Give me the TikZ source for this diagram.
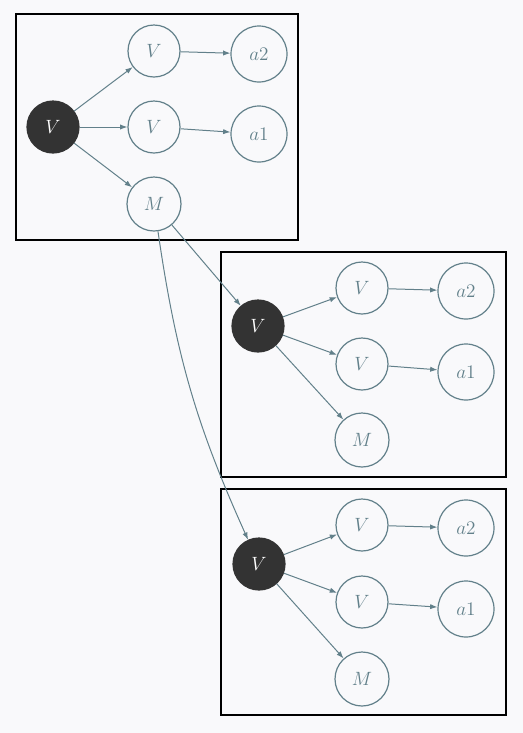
\documentclass[tikz,border=0pt]{standalone}
\usetikzlibrary{arrows.meta}
\definecolor{bggray}{HTML}{F9F9FB}
\definecolor{edgegray}{HTML}{62808A}
\definecolor{nodedark}{HTML}{333333}
\begin{document}
\begin{tikzpicture}[x=0.75pt,y=-0.75pt]

    \tikzset{
      state/.style={
        circle,
        draw=edgegray,
        line width=0.9pt,
        text=edgegray,
        inner sep=0pt,
        minimum size=39pt,
        font=\fontsize{13.7}{16}\selectfont,
      },
      root/.style={
        state,
        fill=nodedark,
        draw=nodedark,
        text=white,
      },
      leaf/.style={
        state,
        minimum size=42pt,
      },
      group/.style={
        draw=black,
        line width=0.8pt,
      },
      link/.style={
        draw=edgegray,
        line width=0.75pt,
        -{Latex[length=5.5pt,width=4pt]},
      },
    }
    \fill[bggray] (0,0) rectangle (523,733);
    \useasboundingbox (0,0) rectangle (523,733);
	\draw[group] (16,14) rectangle (298,240);
	\draw[group] (221,252) rectangle (506,477);
	\draw[group] (221,489) rectangle (506,715);
	\node[root] (r1) at (53,127) {$V$};
	\node[state] (v1a) at (154,51) {$V$};
	\node[state] (v1b) at (154,127) {$V$};
	\node[state,minimum size=40.5pt] (m1) at (154,204) {$M$};
	\node[leaf] (atwo1) at (259,54) {$a2$};
	\node[leaf] (aone1) at (259,134) {$a1$};
	\node[root] (r2) at (258,326) {$V$};
	\node[state] (v2a) at (362,288) {$V$};
	\node[state] (v2b) at (362,364) {$V$};
	\node[state,minimum size=40.5pt] (m2) at (362,440) {$M$};
	\node[leaf] (atwo2) at (466,291) {$a2$};
	\node[leaf] (aone2) at (466,372) {$a1$};
	\node[root] (r3) at (259,564) {$V$};
	\node[state] (v3a) at (362,525) {$V$};
	\node[state] (v3b) at (362,602) {$V$};
	\node[state,minimum size=40.5pt] (m3) at (362,679) {$M$};
	\node[leaf] (atwo3) at (466,528) {$a2$};
	\node[leaf] (aone3) at (466,609) {$a1$};
	\draw[link] (r1)--(v1a);
	\draw[link] (r1)--(v1b);
	\draw[link] (r1)--(m1);
	\draw[link] (v1a)--(atwo1);
	\draw[link] (v1b)--(aone1);
	\draw[link] (r2)--(v2a);
	\draw[link] (r2)--(v2b);
	\draw[link] (r2)--(m2);
	\draw[link] (v2a)--(atwo2);
	\draw[link] (v2b)--(aone2);
	\draw[link] (r3)--(v3a);
	\draw[link] (r3)--(v3b);
	\draw[link] (r3)--(m3);
	\draw[link] (v3a)--(atwo3);
	\draw[link] (v3b)--(aone3);
	\draw[link] (m1)--(r2);
	\draw[link] (m1) to[bend right=8] (r3);

\end{tikzpicture}
\end{document}
